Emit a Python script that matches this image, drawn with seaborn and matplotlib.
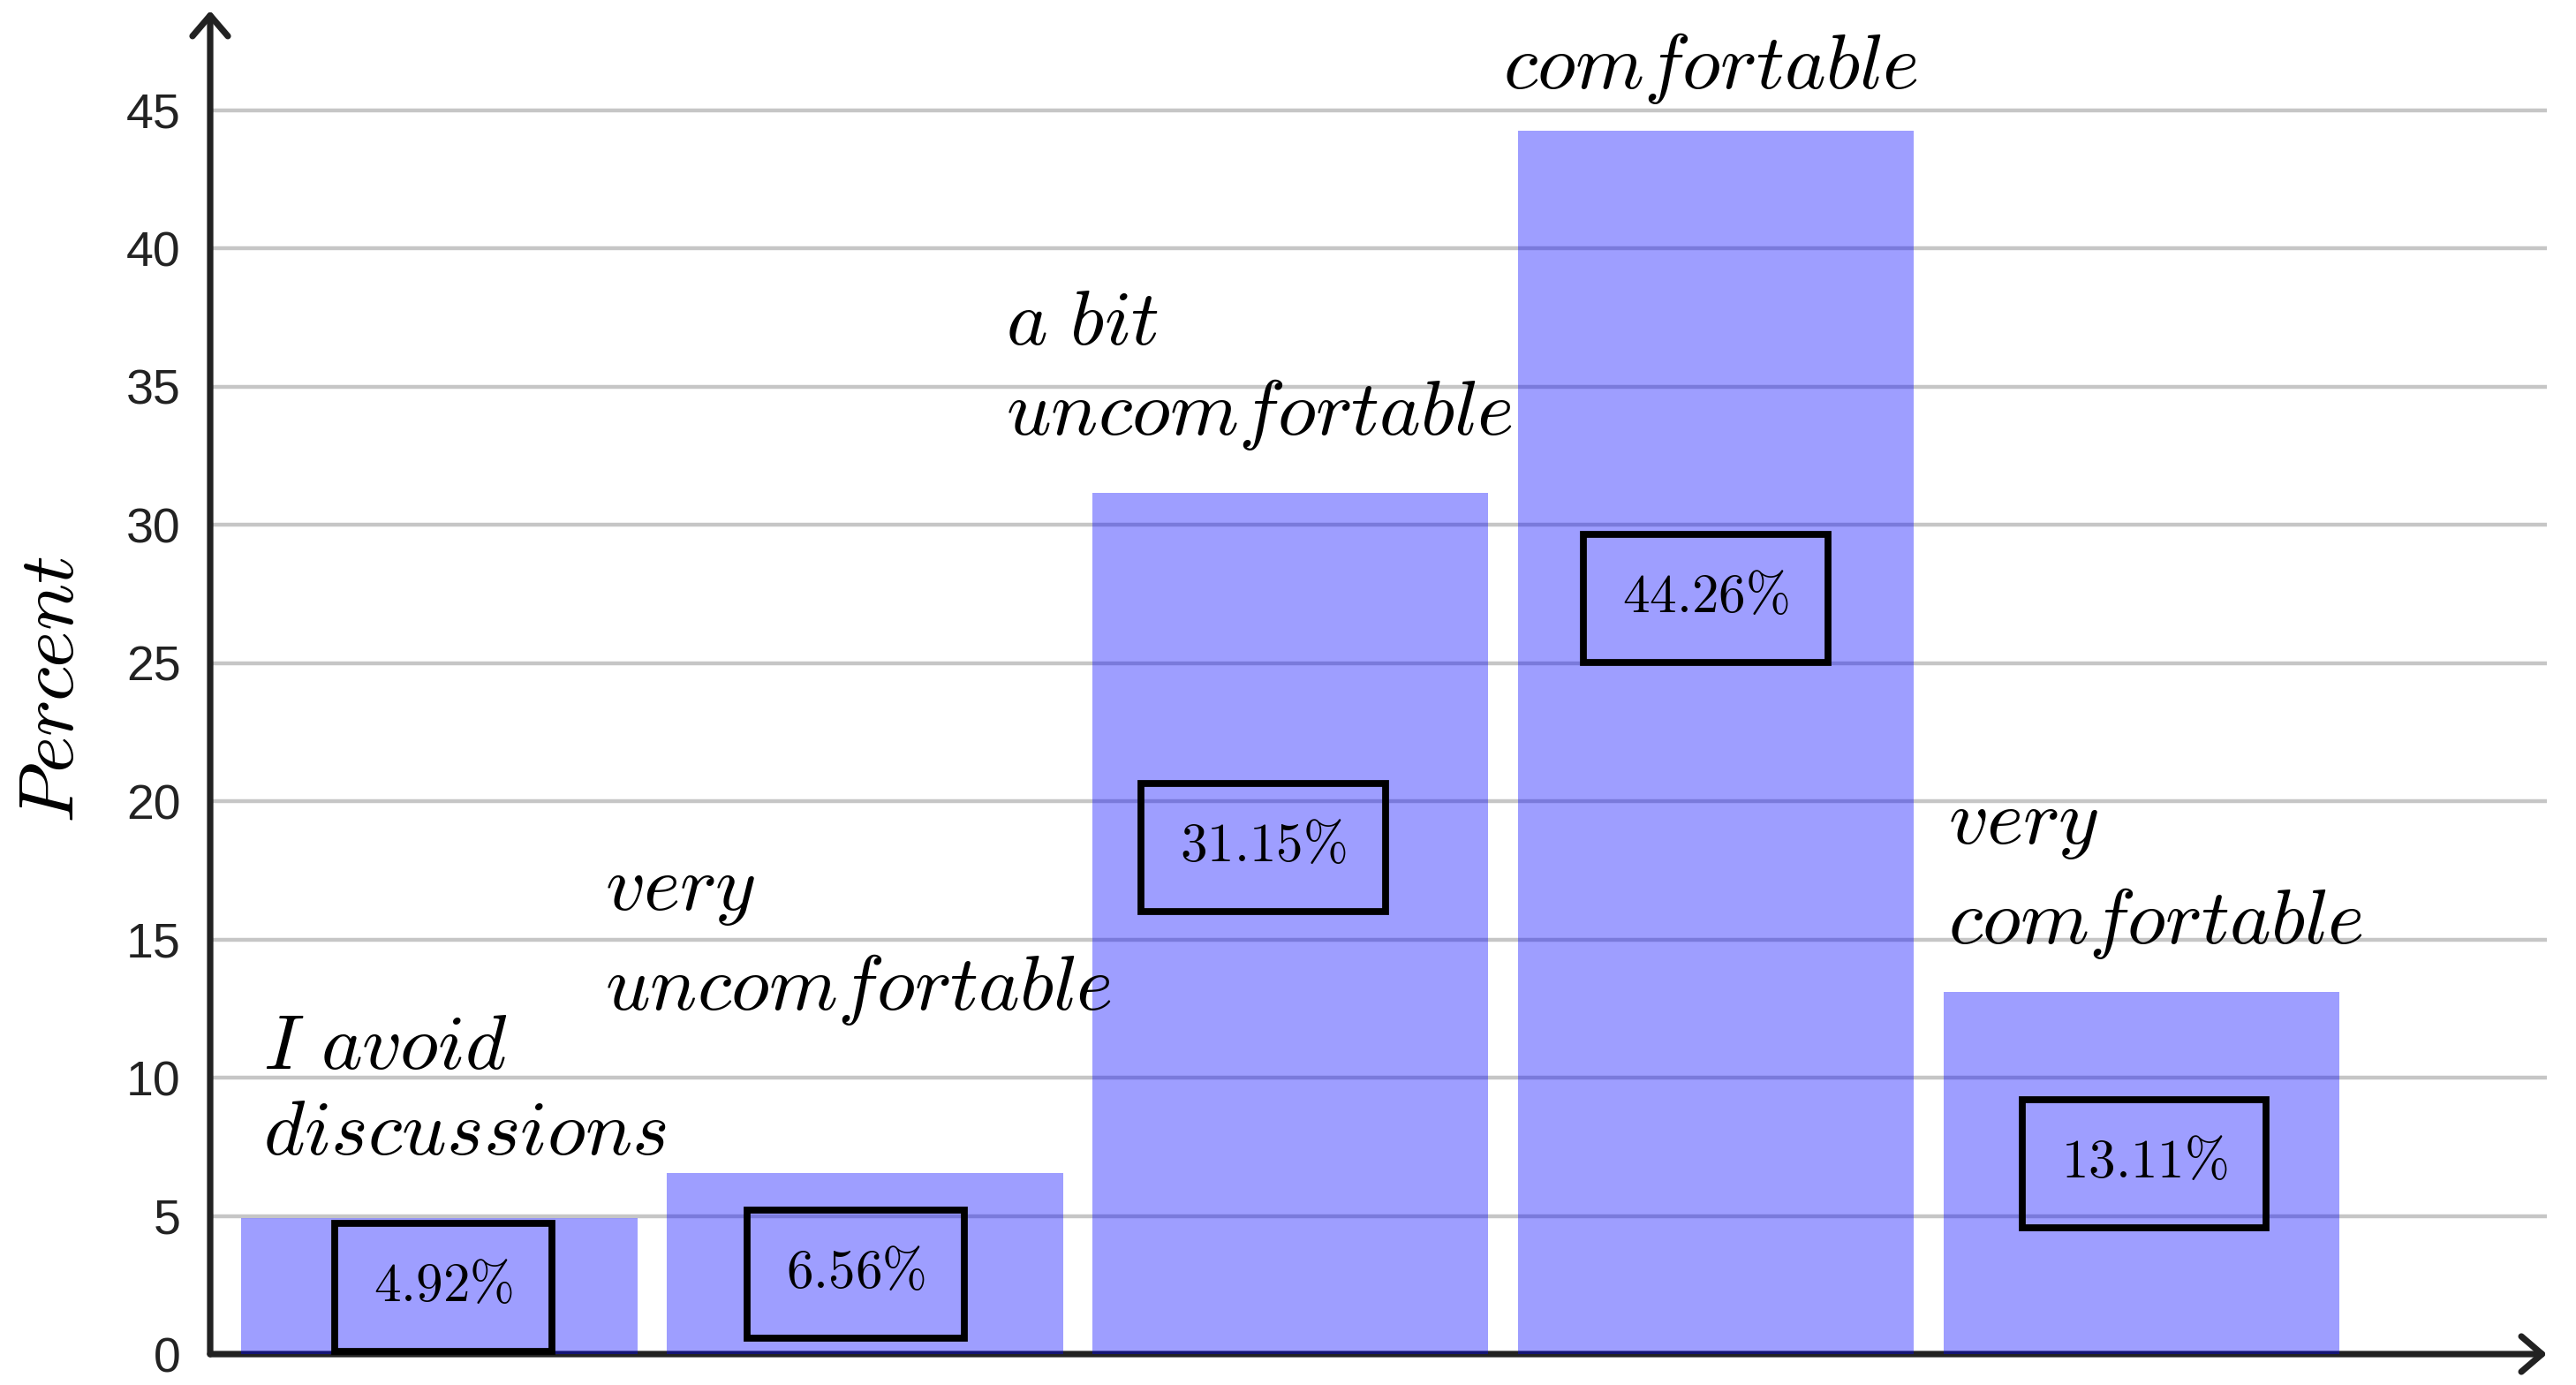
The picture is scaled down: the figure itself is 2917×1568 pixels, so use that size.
import matplotlib
matplotlib.use("Agg")
import matplotlib.pyplot as plt
import seaborn as sns
import pandas as pd

# ---- data ----
categories = ["I avoid discussions", "very uncomfortable", "a bit uncomfortable",
              "comfortable", "very comfortable"]
label_lines = [["I avoid", "discussions"], ["very", "uncomfortable"],
               ["a bit", "uncomfortable"], ["comfortable"], ["very", "comfortable"]]
values = [4.92, 6.56, 31.15, 44.26, 13.11]
value_labels = ["4.92%", "6.56%", "31.15%", "44.26%", "13.11%"]
yticks = [0, 5, 10, 15, 20, 25, 30, 35, 40, 45]

# ---- layout (annotation placement, data units) ----
label_left = [-0.415, 0.388, 1.33, 2.50, 3.546]
label_base = [7.22, 12.46, 33.26, 45.8, 14.86]
line_gap = [3.1, 3.61, 3.26, 3.6, 3.61]
box_x = [0.01, 0.979, 1.936, 2.975, 4.006]
box_y = [2.41, 2.88, 18.34, 27.35, 6.87]

sns.set_style("white")
plt.rcParams["mathtext.fontset"] = "cm"
plt.rcParams["font.family"] = ["Liberation Sans", "DejaVu Sans"]

fig = plt.figure(figsize=(2917 / 200, 1568 / 200), dpi=200)
ax = fig.add_axes([238 / 2917, 35 / 1568, (2884 - 238) / 2917, (1533 - 12) / 1568])

df = pd.DataFrame({"category": categories, "value": values})
sns.barplot(data=df, x="category", y="value", color="#0000ff", alpha=0.38,
            saturation=1, width=0.93, errorbar=None, linewidth=0, ax=ax, zorder=2)

ax.set_xlim(-0.5386, 4.952)
ax.set_ylim(0, 48.6)
ax.set_xticks([])
ax.set_xlabel("")
ax.set_ylabel("")
ax.set_yticks(yticks)
ax.set_yticklabels([str(t) for t in yticks], fontsize=20, color="#222222")
ax.tick_params(axis="y", length=0, pad=12)
for t in yticks[1:]:
    ax.axhline(t, color="#c6c6c6", lw=1.6, zorder=0.5)
for s in ax.spines.values():
    s.set_visible(False)

# axis arrows
arrow_kw = dict(arrowstyle="->,head_length=0.35,head_width=0.3", lw=2.6,
                color="#222222", shrinkA=0, shrinkB=0, mutation_scale=24)
ax.annotate("", xy=(0, 1), xytext=(0, 0), xycoords="axes fraction",
            arrowprops=arrow_kw, zorder=1, annotation_clip=False)
ax.annotate("", xy=(1, 0), xytext=(0, 0), xycoords="axes fraction",
            arrowprops=arrow_kw, zorder=1, annotation_clip=False)

# category labels
for i, lines in enumerate(label_lines):
    n = len(lines)
    for j, line in enumerate(lines):
        y = label_base[i] + (n - 1 - j) * line_gap[i]
        txt = "$" + line.replace(" ", r"\ ") + "$"
        ax.text(label_left[i], y, txt, fontsize=32, ha="left", va="baseline",
                color="black", zorder=4)

# value boxes
for i, lab in enumerate(value_labels):
    ax.text(box_x[i], box_y[i], r"$\mathrm{" + lab.replace("%", r"\%") + "}$",
            fontsize=22, ha="center", va="center", color="black", zorder=4,
            bbox=dict(boxstyle="square,pad=0.72", facecolor="none",
                      edgecolor="black", linewidth=2.8))

fig.text(60 / 2917, 1 - 781 / 1568, r"$Percent$", fontsize=32, rotation=90,
         ha="center", va="center", color="black")

fig.savefig("out.png", dpi=200, facecolor="white")
